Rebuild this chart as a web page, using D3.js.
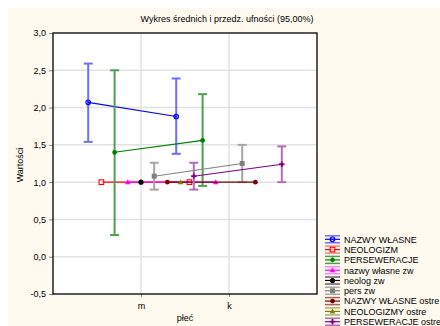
<!DOCTYPE html>
<html><head><meta charset="utf-8">
<script src="https://cdn.jsdelivr.net/npm/d3@7"></script>
<style>body{margin:0;background:#fff}svg{display:block}text{font-family:Arial,"Liberation Sans",sans-serif;fill:#000}</style>
</head><body><svg id="c" width="440" height="326"></svg>
<script>
const categories = ["m", "k"];
const seriesNames = ["NAZWY WŁASNE","NEOLOGIZM","PERSEWERACJE","nazwy własne zw","neolog zw","pers zw","NAZWY WŁASNE ostre","NEOLOGIZMY ostre","PERSEWERACJE ostre"];
const means = [[2.07,1.88],[1.0,1.0],[1.40,1.56],[1.0,1.0],[1.0,null],[1.08,1.25],[1.0,1.0],[1.0,null],[1.08,1.24]];
const lower = [[1.54,1.38],[1.0,1.0],[0.29,0.95],[1.0,1.0],[1.0,null],[0.90,1.00],[1.0,1.0],[1.0,null],[0.90,1.00]];
const upper = [[2.59,2.39],[1.0,1.0],[2.50,2.18],[1.0,1.0],[1.0,null],[1.26,1.50],[1.0,1.0],[1.0,null],[1.26,1.48]];
const yTicks = [-0.5,0,0.5,1,1.5,2,2.5,3];
const colors = ["#0000ff","#ff0000","#008000","#ff00ff","#000000","#808080","#800000","#808000","#800080"];
const errColors = ["#6e6eff","#ff8080","#4ea04e","#ff80ff","#606060","#a6a6a6","#b06060","#b0b060","#b26eb2"];
const markers = ["ocircle","osquare","star","triangle","circle","square","diamond","triangle","plus"];

const svg = d3.select("#c");
svg.append("rect").attr("x",8).attr("y",8).attr("width",432).attr("height",318).attr("fill","#fefaf0");
const L=53,R=317,T=33,B=294;
svg.append("rect").attr("x",L).attr("y",T).attr("width",R-L).attr("height",B-T).attr("fill","#fff");
const x = d3.scaleLinear().domain([0,3]).range([L,R]);
const y = d3.scaleLinear().domain([-0.5,3]).range([B,T]);
svg.selectAll(".gy").data(yTicks.slice(1,-1)).enter().append("line")
  .attr("x1",L).attr("x2",R).attr("y1",d=>y(d)).attr("y2",d=>y(d)).attr("stroke","#e2e2e2").attr("stroke-width",1.5);
svg.selectAll(".gx").data([1,2]).enter().append("line")
  .attr("y1",T).attr("y2",B).attr("x1",d=>x(d)).attr("x2",d=>x(d)).attr("stroke","#e2e2e2").attr("stroke-width",1.5);
const ya = svg.append("g").attr("transform",`translate(${L},0)`).call(d3.axisLeft(y).tickValues(yTicks).tickFormat(d=>d3.format(".1f")(d).replace(".",",").replace("−","-")).tickSize(4).tickPadding(3));
ya.select(".domain").remove();
ya.selectAll("line").attr("stroke","#888");
ya.selectAll("text").style("font-size","9px");
const xa = svg.append("g").attr("transform",`translate(0,${B})`).call(d3.axisBottom(x).tickValues([1,2]).tickFormat((d,i)=>categories[i]).tickSize(3).tickPadding(6));
xa.select(".domain").remove();
xa.selectAll("line").attr("stroke","#888");
xa.selectAll("text").style("font-size","9px");
svg.append("rect").attr("x",L).attr("y",T).attr("width",R-L).attr("height",B-T).attr("fill","none").attr("stroke","#000").attr("stroke-width",1.3);

svg.append("text").attr("x",227).attr("y",22).attr("text-anchor","middle").style("font-size","9px").text("Wykres średnich i przedz. ufności (95,00%)");
svg.append("text").attr("transform","translate(23,165) rotate(-90)").attr("text-anchor","middle").style("font-size","9px").text("Wartości");
svg.append("text").attr("x",185).attr("y",321).attr("text-anchor","middle").style("font-size","9px").text("płeć");

function marker(g,type,cx,cy,col){
  if(type==="ocircle"){g.append("circle").attr("cx",cx).attr("cy",cy).attr("r",2.3).attr("fill","none").attr("stroke",col).attr("stroke-width",1.1);
    g.append("path").attr("d",`M${cx-1.5},${cy-1.5}L${cx+1.5},${cy+1.5}M${cx-1.5},${cy+1.5}L${cx+1.5},${cy-1.5}`).attr("stroke",col).attr("stroke-width",0.7);}
  else if(type==="osquare"){g.append("rect").attr("x",cx-2.3).attr("y",cy-2.3).attr("width",4.6).attr("height",4.6).attr("fill","#fff").attr("fill-opacity",0.6).attr("stroke",col).attr("stroke-width",1.1);}
  else if(type==="square"){g.append("rect").attr("x",cx-2.5).attr("y",cy-2.5).attr("width",5).attr("height",5).attr("fill",col);}
  else if(type==="circle"){g.append("circle").attr("cx",cx).attr("cy",cy).attr("r",2.6).attr("fill",col);}
  else if(type==="triangle"){g.append("path").attr("d",`M${cx},${cy-2.8}L${cx+2.8},${cy+2}L${cx-2.8},${cy+2}Z`).attr("fill",col);}
  else if(type==="diamond"){g.append("path").attr("d",d3.symbol(d3.symbolCircle,18)()).attr("transform",`translate(${cx},${cy})`).attr("fill",col);}
  else if(type==="star"){g.append("path").attr("d",d3.symbol(d3.symbolCross,12)()).attr("transform",`translate(${cx},${cy}) rotate(45)`).attr("fill",col);
    g.append("path").attr("d",d3.symbol(d3.symbolCross,12)()).attr("transform",`translate(${cx},${cy})`).attr("fill",col);}
  else if(type==="plus"){g.append("path").attr("d",d3.symbol(d3.symbolCross,16)()).attr("transform",`translate(${cx},${cy})`).attr("fill",col);}
}

seriesNames.forEach((name,i)=>{
  const g = svg.append("g");
  const off = (i-4)*0.15;
  const pts = means[i].map((m,j)=>({x:x(j+1+off), m, lo:lower[i][j], hi:upper[i][j]})).filter(p=>p.m!==null);
  pts.forEach(p=>{
    if(p.hi!==p.lo){
      g.append("line").attr("x1",p.x).attr("x2",p.x).attr("y1",y(p.lo)).attr("y2",y(p.hi)).attr("stroke",errColors[i]).attr("stroke-width",2);
      [p.lo,p.hi].forEach(v=>g.append("line").attr("x1",p.x-4.5).attr("x2",p.x+4.5).attr("y1",y(v)).attr("y2",y(v)).attr("stroke",errColors[i]).attr("stroke-width",2));
    }
  });
  if(pts.length>1){
    g.append("path").attr("d",d3.line().x(p=>p.x).y(p=>y(p.m))(pts)).attr("fill","none").attr("stroke",colors[i]).attr("stroke-width",1.1);
  }
  pts.forEach(p=>marker(g,markers[i],p.x,y(p.m),colors[i]));
  const ly = 239.3 + i*10.3;
  const lg = svg.append("g");
  [ly-3.5,ly+3.5].forEach(v=>lg.append("line").attr("x1",325).attr("x2",340).attr("y1",v).attr("y2",v).attr("stroke",errColors[i]).attr("stroke-width",1.5));
  lg.append("line").attr("x1",325).attr("x2",340).attr("y1",ly).attr("y2",ly).attr("stroke",colors[i]).attr("stroke-width",1.2);
  marker(lg,markers[i],332.5,ly,colors[i]);
  lg.append("text").attr("x",344).attr("y",ly+3.3).style("font-size","9px").text(name);
});
</script></body></html>
